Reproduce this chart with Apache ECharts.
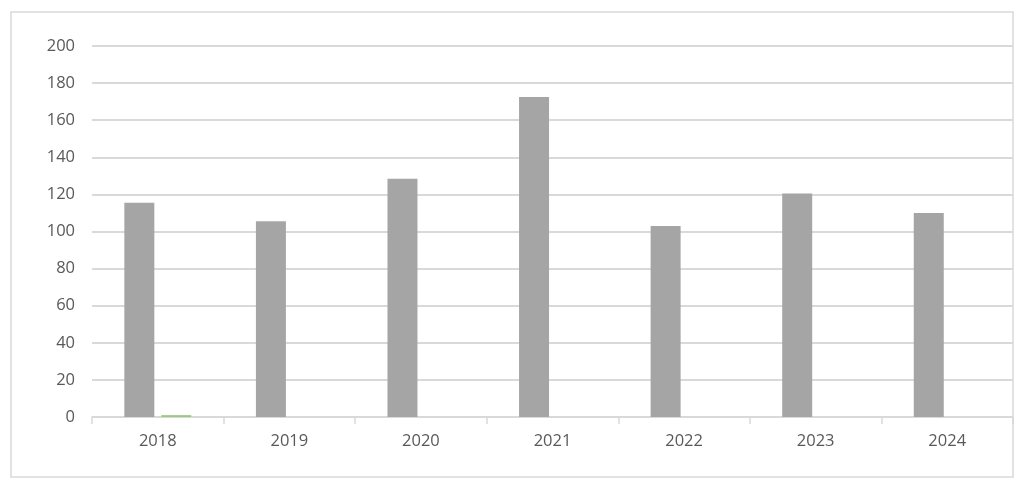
<!DOCTYPE html>
<html>
<head>
<meta charset="utf-8">
<script src="https://cdn.jsdelivr.net/npm/echarts@6/dist/echarts.min.js"></script>
<style>
html, body { margin: 0; padding: 0; background: #fff; }
#container { width: 1024px; height: 484px; }
</style>
</head>
<body>
<div id="container"></div>
<script>
var years = ['2018', '2019', '2020', '2021', '2022', '2023', '2024'];
var mainValues = [115.5, 105.5, 128.5, 172.5, 103, 120.5, 110];
var minorValues = [1, 0, 0, 0, 0, 0, 0];
var yTicks = { min: 0, max: 200, interval: 20 };

var dom = document.getElementById("container");
var myChart = echarts.init(dom);
var option = {
    animation: false,
    textStyle: { fontFamily: 'Open Sans' },
    graphic: [{
        type: 'rect',
        shape: { x: 11, y: 12, width: 1002, height: 465 },
        style: { fill: 'none', stroke: '#d9d9d9', lineWidth: 1.5 },
        silent: true
    }],
    grid: { left: 92, right: 11, top: 46, bottom: 67 },
    xAxis: {
        type: 'category',
        data: years,
        axisLine: { lineStyle: { color: '#d9d9d9', width: 1.5 } },
        axisTick: { show: true, length: 7, lineStyle: { color: '#d9d9d9', width: 1.5 } },
        axisLabel: { color: '#595959', fontSize: 16.5, margin: 16 }
    },
    yAxis: {
        type: 'value',
        min: yTicks.min,
        max: yTicks.max,
        interval: yTicks.interval,
        axisLine: { show: false },
        axisTick: { show: false },
        axisLabel: { color: '#595959', fontSize: 16.5, margin: 17 },
        splitLine: { lineStyle: { color: '#d9d9d9', width: 2 } }
    },
    series: [{
        name: 'main',
        type: 'bar',
        data: mainValues,
        barWidth: 30,
        barGap: '23%',
        itemStyle: { color: '#a5a5a5' }
    }, {
        name: 'minor',
        type: 'bar',
        data: minorValues,
        barWidth: 30,
        barGap: '23%',
        itemStyle: { color: '#9cc97e' }
    }]
};
if (option && typeof option === "object") {
    myChart.setOption(option, true);
}
</script>
</body>
</html>
